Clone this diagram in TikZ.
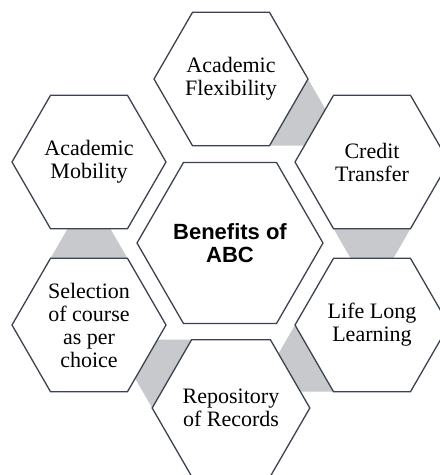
\documentclass[tikz,border=0pt]{standalone}
\usepackage{fontspec}
\setmainfont{Liberation Serif}
\setsansfont{Liberation Sans}
\usetikzlibrary{shapes.geometric,calc,backgrounds}
\definecolor{hexline}{HTML}{3C4350}
\definecolor{linkgray}{HTML}{C8C9CD}
\begin{document}
\begin{tikzpicture}[x = 1pt, y = -1pt,
		hexa/.style = {regular polygon, regular polygon sides = 6, minimum size = 154pt,
			inner sep = 0pt, outer sep = 0pt, draw = hexline, line width = 1.3pt, fill = white,
			align = center, font = \fontsize{22}{23}\selectfont},
		hubhexa/.style = {hexa, minimum size = 186pt, font = \sffamily\bfseries\fontsize{22}{22.5}\selectfont}]
	\useasboundingbox (0,0) rectangle (440,475);
	\clip (0,0) rectangle (440,475);
	\node[hubhexa] (hub) at (230,243) {Benefits of\\ABC};
	\node[hexa] (flex) at (231,79) {Academic\\Flexibility};
	\node[hexa] (mobility) at (89,162) {Academic\\Mobility};
	\node[hexa] (credit) at (372,162) {Credit\\Transfer};
	\node[hexa] (select) at (89,325) {Selection\\of course\\as per\\choice};
	\node[hexa] (life) at (372,325) {Life Long\\Learning};
	\node[hexa] (repo) at (231,408) {Repository\\of Records};
	\begin{scope}[on background layer]
		\foreach \h/\a/\b in {flex/0/300, credit/300/240, life/240/180, repo/180/120, select/120/60}
			\fill[linkgray] (\h.\a) -- (\h.\b) -- ($(\h.\a)+(\h.\b)-(\h.center)$) -- cycle;
	\end{scope}
\end{tikzpicture}
\end{document}
